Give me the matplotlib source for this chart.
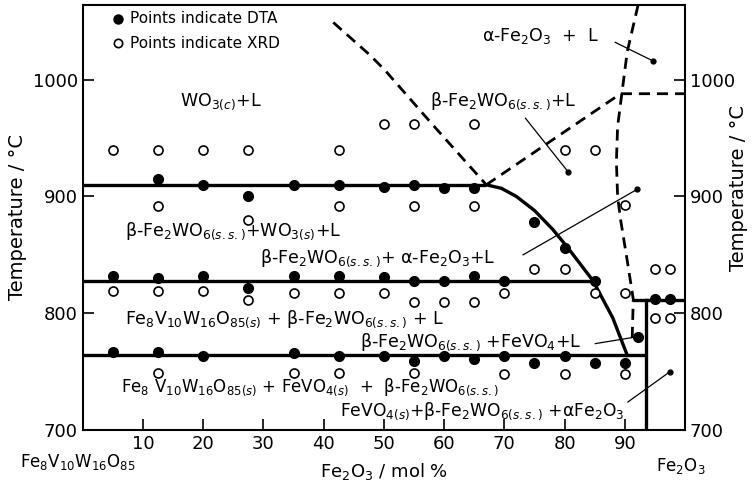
import matplotlib
matplotlib.use("Agg")
import matplotlib.pyplot as plt

plt.rcParams['font.family'] = ['DejaVu Sans']
plt.rcParams['mathtext.fontset'] = 'dejavusans'

# DTA points (filled)
dta_x = [12.5, 20, 27.5, 35, 42.5, 50, 55, 60, 65,
         75, 80,
         5, 12.5, 20, 27.5, 35, 42.5, 50, 55, 60, 65, 70, 85,
         95, 97.5, 92.2,
         5, 12.5, 20, 35, 42.5, 50, 55, 60, 65, 70, 75, 80, 85, 90]
dta_T = [915, 910, 900, 910, 910, 908, 910, 907, 907,
         878, 856,
         832, 830, 832, 822, 832, 832, 831, 828, 828, 832, 828, 828,
         812, 812, 780,
         767, 767, 763, 766, 763, 763, 759, 763, 761, 763, 757, 763, 757, 757]

# XRD points (open)
xrd_x = [5, 12.5, 20, 27.5, 42.5, 80, 85,
         50, 55, 65,
         12.5, 42.5, 55, 65, 90, 27.5,
         75, 80, 95, 97.5,
         5, 12.5, 20, 35, 42.5, 50, 70, 85, 90,
         27.5, 55, 60, 65,
         95, 97.5,
         12.5, 35, 42.5, 55, 70, 80, 90]
xrd_T = [940, 940, 940, 940, 940, 940, 940,
         962, 962, 962,
         892, 892, 892, 892, 893, 880,
         838, 838, 838, 838,
         819, 819, 819, 817, 817, 817, 817, 817, 817,
         811, 810, 810, 810,
         796, 796,
         749, 749, 749, 749, 748, 748, 748]

# phase boundaries
eut_T = [910, 828, 764]
eut_end = [67, 84.7, 93.5]
liq_x = [67, 69.5, 72, 75, 78, 80.4, 84.7, 88, 90.4]
liq_T = [910, 907, 900, 888, 872, 857, 828, 796, 764]
dash1_x = [41.6, 47.7, 50.2, 58, 67]
dash1_T = [1049, 1021, 1008, 962, 910]
dash2_x = [67, 89.3, 100]
dash2_T = [910, 988, 988]
dash3_x = [92.2, 90.4, 89.5, 88.8, 88.6, 88.8, 89.3, 90.4, 91.4, 91.2]
dash3_T = [1064, 1024, 988, 960, 930, 900, 880, 845, 812, 775]
fe2o3_x = [91.5, 100]
fe2o3_T = 811
wall_x = 93.5

# leader lines: (x0, T0, x1, T1)
leaders = [(88.4, 1032, 94.7, 1016),
           (73.5, 967, 80.6, 921),
           (73.1, 850, 92.0, 906),
           (85.1, 774, 92.2, 780),
           (90.5, 724, 97.5, 750)]

labels = [
    (16.2, 981, "WO$_{3(c)}$+L", 12.5),
    (57.7, 982, "β-Fe$_2$WO$_{6(s.s.)}$+L", 12.5),
    (66.3, 1037, "α-Fe$_2$O$_3$  +  L", 12.5),
    (7.1, 870, "β-Fe$_2$WO$_{6(s.s.)}$+WO$_{3(s)}$+L", 12.5),
    (29.5, 847, "β-Fe$_2$WO$_{6(s.s.)}$+ α-Fe$_2$O$_3$+L", 12.5),
    (7.1, 795, "Fe$_8$V$_{10}$W$_{16}$O$_{85(s)}$ + β-Fe$_2$WO$_{6(s.s.)}$ + L", 12.5),
    (46, 775, "β-Fe$_2$WO$_{6(s.s.)}$ +FeVO$_4$+L", 12.5),
    (6.4, 737, "Fe$_8$ V$_{10}$W$_{16}$O$_{85(s)}$ + FeVO$_{4(s)}$  +  β-Fe$_2$WO$_{6(s.s.)}$", 12),
    (42.7, 716, "FeVO$_{4(s)}$+β-Fe$_2$WO$_{6(s.s.)}$ +αFe$_2$O$_3$", 12.3),
]

fig = plt.figure(figsize=(7.52, 4.96), dpi=100)
ax = fig.add_axes([0.110, 0.133, 0.801, 0.857])

for T, xe in zip(eut_T, eut_end):
    ax.plot([0, xe], [T, T], color='black', lw=2.4, solid_capstyle='butt')
ax.plot(liq_x, liq_T, color='black', lw=2.4)
ax.plot(fe2o3_x, [fe2o3_T, fe2o3_T], color='black', lw=2.4)
ax.plot([wall_x, wall_x], [fe2o3_T, 700], color='black', lw=2.4)

for xs, ts in [(dash1_x, dash1_T), (dash2_x, dash2_T), (dash3_x, dash3_T)]:
    ax.plot(xs, ts, color='black', lw=2.0, dashes=(4, 2.5))

for x0, t0, x1, t1 in leaders:
    ax.plot([x0, x1], [t0, t1], color='black', lw=0.9)
    ax.plot(x1, t1, 'o', color='black', ms=3.5)

ax.plot(dta_x, dta_T, 'o', color='black', ms=7, zorder=5)
ax.plot(xrd_x, xrd_T, 'o', mfc='white', mec='black', mew=1.2, ms=6.5,
        zorder=5)

for x, t, s, fs in labels:
    ax.text(x, t, s, fontsize=fs, ha='left', va='center')

# legend drawn as text
ax.plot(5.9, 1052, 'o', color='black', ms=6.5)
ax.text(7.8, 1052, "Points indicate DTA", fontsize=11, va='center')
ax.plot(5.9, 1031, 'o', mfc='white', mec='black', mew=1.2, ms=6)
ax.text(7.8, 1031, "Points indicate XRD", fontsize=11, va='center')

ax.set_xlim(0, 100)
ax.set_ylim(700, 1064)
ax.set_xticks([10, 20, 30, 40, 50, 60, 70, 80, 90])
ax.set_yticks([700, 800, 900, 1000])
ax.tick_params(direction='in', length=8, width=1.2, labelsize=13,
               right=True, labelright=True)
for sp in ax.spines.values():
    sp.set_linewidth(1.5)

ax.set_ylabel("Temperature / °C", fontsize=14, labelpad=4)
fig.text(0.982, 0.62, "Temperature / °C", fontsize=14, rotation=90,
         ha='center', va='center')
ax.set_xlabel("Fe$_2$O$_3$ / mol %", fontsize=13, labelpad=6)

fig.text(0.027, 0.068, "Fe$_8$V$_{10}$W$_{16}$O$_{85}$", fontsize=12,
         ha='left', va='center')
fig.text(0.873, 0.060, "Fe$_2$O$_3$", fontsize=12, ha='left', va='center')

fig.savefig("out.png", dpi=100)
